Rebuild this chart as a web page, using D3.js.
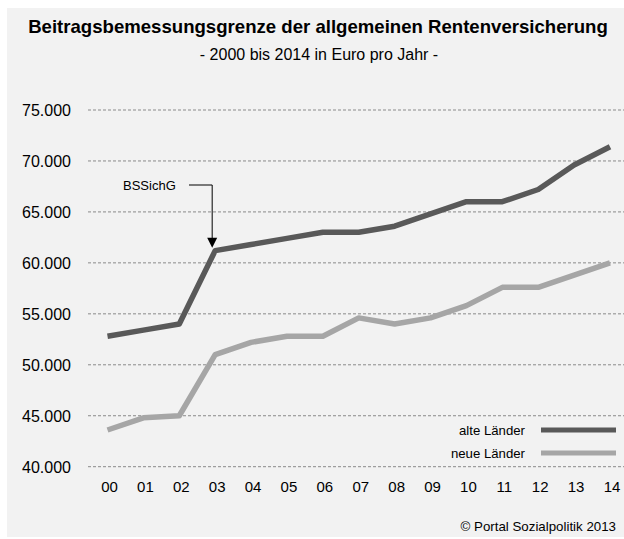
<!DOCTYPE html>
<html><head><meta charset="utf-8">
<script src="https://cdn.jsdelivr.net/npm/d3@7"></script>
<style>body{margin:0;background:#fff}svg{display:block;font-family:"Liberation Sans",Arial,sans-serif}</style>
</head><body>
<script>
const years = ["00","01","02","03","04","05","06","07","08","09","10","11","12","13","14"];
const alteLaender = [52800,53400,54000,61200,61800,62400,63000,63000,63600,64800,66000,66000,67200,69600,71400];
const neueLaender = [43600,44800,45000,51000,52200,52800,52800,54600,54000,54600,55800,57600,57600,58800,60000];
const yTicks = [40000,45000,50000,55000,60000,65000,70000,75000];
const seriesNames = ["alte Länder","neue Länder"];
const title = "Beitragsbemessungsgrenze der allgemeinen Rentenversicherung";
const subtitle = "- 2000 bis 2014 in Euro pro Jahr -";
const annotation = "BSSichG";
const source = "© Portal Sozialpolitik 2013";

const W=624,H=539;
const svg=d3.select("body").append("svg").attr("width",W).attr("height",H);
svg.append("rect").attr("x",7).attr("y",8).attr("width",W-7).attr("height",H-10).attr("fill","#f2f2f2");

svg.append("text").attr("x",318).attr("y",33).attr("text-anchor","middle")
  .attr("font-size",18.6).attr("font-weight","bold").attr("fill","#000").text(title);
svg.append("text").attr("x",319).attr("y",60).attr("text-anchor","middle")
  .attr("font-size",16).attr("fill","#000").text(subtitle);

const x=d3.scalePoint().domain(years).range([107.5,610]);
const y=d3.scaleLinear().domain([40000,75000]).range([466.7,110]);
const fmt=v=>d3.format(",")(v).replace(/,/g,".");

const grid=svg.append("g");
grid.selectAll("line").data(yTicks).join("line")
  .attr("x1",88).attr("x2",624).attr("y1",d=>y(d)).attr("y2",d=>y(d))
  .attr("stroke","#8a8a8a").attr("stroke-width",1).attr("stroke-dasharray","3,2");

const yAxis=svg.append("g").attr("transform","translate(71,0)")
  .call(d3.axisLeft(y).tickValues(yTicks).tickFormat(fmt).tickSize(0).tickPadding(0));
yAxis.select(".domain").remove();
yAxis.selectAll("text").attr("font-size",16).attr("font-family","Liberation Sans, Arial, sans-serif").attr("fill","#000").attr("dy","0.35em");

const xAxis=svg.append("g").attr("transform","translate(1.5,481)")
  .call(d3.axisBottom(x).tickSize(0).tickPadding(0));
xAxis.select(".domain").remove();
xAxis.selectAll("text").attr("font-size",15).attr("font-family","Liberation Sans, Arial, sans-serif").attr("fill","#000").attr("dy","0.71em");

const line=d3.line().x((d,i)=>x(years[i])).y(d=>y(d));
const colors=["#595959","#a6a6a6"];
[alteLaender,neueLaender].forEach((s,k)=>{
  svg.append("path").datum(s).attr("d",line).attr("fill","none")
    .attr("stroke",colors[k]).attr("stroke-width",5.5).attr("stroke-linejoin","round");
});

// legend
seriesNames.forEach((n,k)=>{
  const ly=430+k*23;
  svg.append("text").attr("x",525).attr("y",ly+4.5).attr("text-anchor","end").attr("font-size",13.2).attr("fill","#000").text(n);
  svg.append("line").attr("x1",541).attr("x2",616).attr("y1",ly).attr("y2",ly).attr("stroke",colors[k]).attr("stroke-width",5);
});

// annotation
const ax=x("03")-3, ay=185;
svg.append("text").attr("x",123).attr("y",ay+4.5).attr("font-size",13).attr("fill","#000").text(annotation);
svg.append("path").attr("d",`M${189},${ay}H${ax}V${y(alteLaender[3])-12}`).attr("fill","none").attr("stroke","#000").attr("stroke-width",1);
svg.append("path").attr("d",`M${ax-5},${y(alteLaender[3])-13}L${ax+5},${y(alteLaender[3])-13}L${ax},${y(alteLaender[3])-3}Z`).attr("fill","#000");

svg.append("text").attr("x",616).attr("y",531).attr("text-anchor","end").attr("font-size",13.3).attr("fill","#000").text(source);
</script>
</body></html>
